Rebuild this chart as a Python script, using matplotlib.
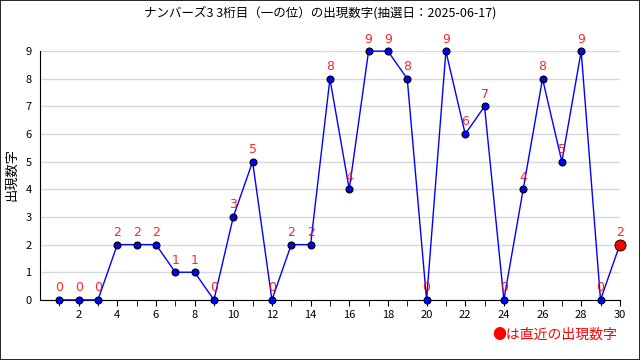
import matplotlib
matplotlib.use('Agg')
import matplotlib.pyplot as plt

plt.rcParams['font.family'] = ['Noto Sans CJK JP', 'DejaVu Sans']

# draw number, one per draw (oldest to latest)
draws = list(range(1, 31))
digits = [0, 0, 0, 2, 2, 2, 1, 1, 0, 3, 5, 0, 2, 2, 8, 4, 9, 9, 8, 0,
          9, 6, 7, 0, 4, 8, 5, 9, 0, 2]
title = 'ナンバーズ3 3桁目（一の位）の出現数字(抽選日：2025-06-17)'

fig = plt.figure(figsize=(6.4, 3.6), dpi=100)
fig.patches.append(plt.Rectangle((0, 0), 1, 1, transform=fig.transFigure,
                                 fill=False, edgecolor='black', linewidth=1.2))
ax = fig.add_axes([0.0625, 0.167, 0.906, 0.691])

ax.plot(draws, digits, color='blue', linewidth=1, marker='o', markersize=5,
        markerfacecolor='blue', markeredgecolor='black', markeredgewidth=0.8,
        clip_on=False, zorder=3)
# latest draw in red
ax.plot(draws[-1], digits[-1], 'o', color='red', markersize=8,
        markeredgecolor='black', markeredgewidth=0.6, clip_on=False, zorder=4)

for x, y in zip(draws, digits):
    ax.annotate(str(y), (x, y), xytext=(0, 4), textcoords='offset points',
                ha='center', va='bottom', color='red', fontsize=9,
                family='DejaVu Sans', alpha=0.85, zorder=5)

ax.set_xlim(0, 30)
ax.set_ylim(0, 9)
ax.set_xticks(range(2, 31, 2))
ax.set_xticks(range(1, 31), minor=True)
ax.set_yticks(range(0, 10))
ax.tick_params(axis='x', direction='out', length=4, labelsize=8)
ax.tick_params(axis='x', which='minor', direction='out', length=4)
ax.tick_params(axis='y', length=0, labelsize=8, pad=6)
ax.grid(axis='y', color='#d8d8d8', linewidth=1)
ax.set_axisbelow(True)
for s in ['top', 'right']:
    ax.spines[s].set_visible(False)

fig.text(0.018, 0.514, '出現数字', rotation=90, ha='center', va='center', fontsize=9.5)
fig.text(0.5, 0.965, title, ha='center', va='center', fontsize=9)
fig.text(0.965, 0.07, '●は直近の出現数字', color='red', fontsize=10, ha='right', va='center')

plt.savefig('out.png')
plt.close()
